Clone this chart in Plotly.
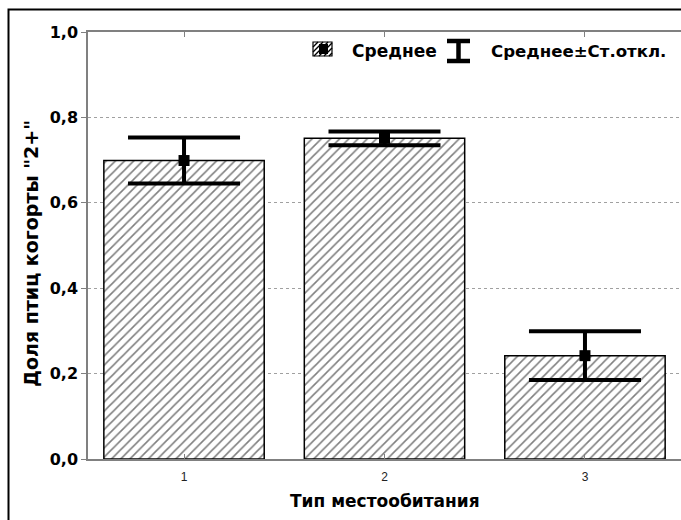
import plotly.graph_objects as go

# Habitat types and the share of "2+" cohort birds (mean ± SD)
habitats = ["1", "2", "3"]
means = [0.699, 0.751, 0.242]
sds = [0.054, 0.016, 0.057]

y_ticks = [0.0, 0.2, 0.4, 0.6, 0.8, 1.0]

W, H = 681, 520
L, R, T, B = 88, 0, 32, 61
PW, PH = W - L - R, H - T - B


def px(x):
    """Pixel x -> paper x."""
    return (x - L) / PW


def py(y):
    """Pixel y (from top) -> paper y."""
    return (H - B - y) / PH


BOLD = dict(family="DejaVu Sans", size=17, color="black", weight="bold")

fig = go.Figure()

fig.add_trace(go.Bar(
    x=habitats, y=means, width=0.8,
    marker=dict(
        color="white",
        line=dict(color="black", width=1.5),
        pattern=dict(shape="/", fgcolor="black", bgcolor="white",
                     size=6.5, solidity=0.24),
    ),
    showlegend=False, hoverinfo="skip",
))

fig.add_trace(go.Scatter(
    x=habitats, y=means, mode="markers",
    marker=dict(symbol="square", size=11, color="black"),
    error_y=dict(type="data", array=sds, visible=True,
                 color="black", thickness=4, width=56),
    showlegend=False,
))

shapes = []
# outer frame
shapes.append(dict(type="rect", xref="paper", yref="paper",
                   x0=px(8.5), x1=px(W + 20), y0=py(H + 20), y1=py(9.5),
                   line=dict(color="black", width=2), layer="below"))

# legend key: hatched box with the mean marker
bx0, bx1, by0, by1 = 313, 332, 42, 56
shapes.append(dict(type="rect", xref="paper", yref="paper",
                   x0=px(bx0), x1=px(bx1), y0=py(by1), y1=py(by0),
                   fillcolor="white", line=dict(color="black", width=1.2)))
step = 5
segs = []
for c in range(bx0 - (by1 - by0), bx1 + 1, step):
    xa, ya = c, by1
    xb, yb = c + (by1 - by0), by0
    if xa < bx0:
        ya -= (bx0 - xa); xa = bx0
    if xb > bx1:
        yb += (xb - bx1); xb = bx1
    if xa < xb:
        segs.append(f"M{px(xa)},{py(ya)} L{px(xb)},{py(yb)}")
shapes.append(dict(type="path", xref="paper", yref="paper",
                   path=" ".join(segs), line=dict(color="black", width=1.4)))
shapes.append(dict(type="rect", xref="paper", yref="paper",
                   x0=px(319), x1=px(328), y0=py(54), y1=py(44),
                   fillcolor="black", line=dict(width=0)))

# legend key: error-bar glyph
ix0, ix1, iy0, iy1 = 447, 470, 41, 61
ixc = (ix0 + ix1) / 2
for (xa, ya, xb, yb) in [(ix0, iy0, ix1, iy0), (ix0, iy1, ix1, iy1),
                         (ixc, iy0, ixc, iy1)]:
    shapes.append(dict(type="line", xref="paper", yref="paper",
                       x0=px(xa), y0=py(ya), x1=px(xb), y1=py(yb),
                       line=dict(color="black", width=4.5)))

annotations = [
    dict(text="Среднее", x=px(350), y=py(51), xref="paper", yref="paper",
         xanchor="left", yanchor="middle", showarrow=False, font=BOLD),
    dict(text="Среднее±Ст.откл.", x=px(489), y=py(51), xref="paper",
         yref="paper", xanchor="left", yanchor="middle", showarrow=False,
         font=dict(BOLD, size=16.6)),
    dict(text="Тип местообитания", x=0.5, y=py(501), xref="paper",
         yref="paper", xanchor="center", yanchor="middle", showarrow=False,
         font=BOLD),
    dict(text='Доля птиц когорты "2+"', x=px(31), y=py(254), xref="paper",
         yref="paper", xanchor="center", yanchor="middle", showarrow=False,
         textangle=-90, font=dict(BOLD, size=19)),
]

fig.update_layout(
    width=W, height=H,
    margin=dict(l=L, r=R, t=T, b=B, pad=0),
    paper_bgcolor="white", plot_bgcolor="white",
    separators=", ",
    shapes=shapes, annotations=annotations,
)

fig.update_xaxes(
    type="category", range=[-0.479, 2.479],
    showline=True, linecolor="#808080", linewidth=1.5, mirror="ticks",
    ticks="inside", ticklen=5, tickcolor="#808080",
    tickfont=dict(family="Liberation Sans", size=12, color="#222"),
    showgrid=False, zeroline=False, ticklabelstandoff=6,
)

fig.update_yaxes(
    range=[0, 1], tickvals=y_ticks, tickformat=".1f",
    showline=True, linecolor="#808080", linewidth=1.5, mirror=False,
    ticks="outside", ticklen=5, tickcolor="#808080",
    tickfont=dict(family="DejaVu Sans", size=16, color="black", weight="bold"),
    showgrid=True, gridcolor="#a0a0a0", griddash="dot", gridwidth=1,
    zeroline=False,
)

fig.write_html("out.html")
